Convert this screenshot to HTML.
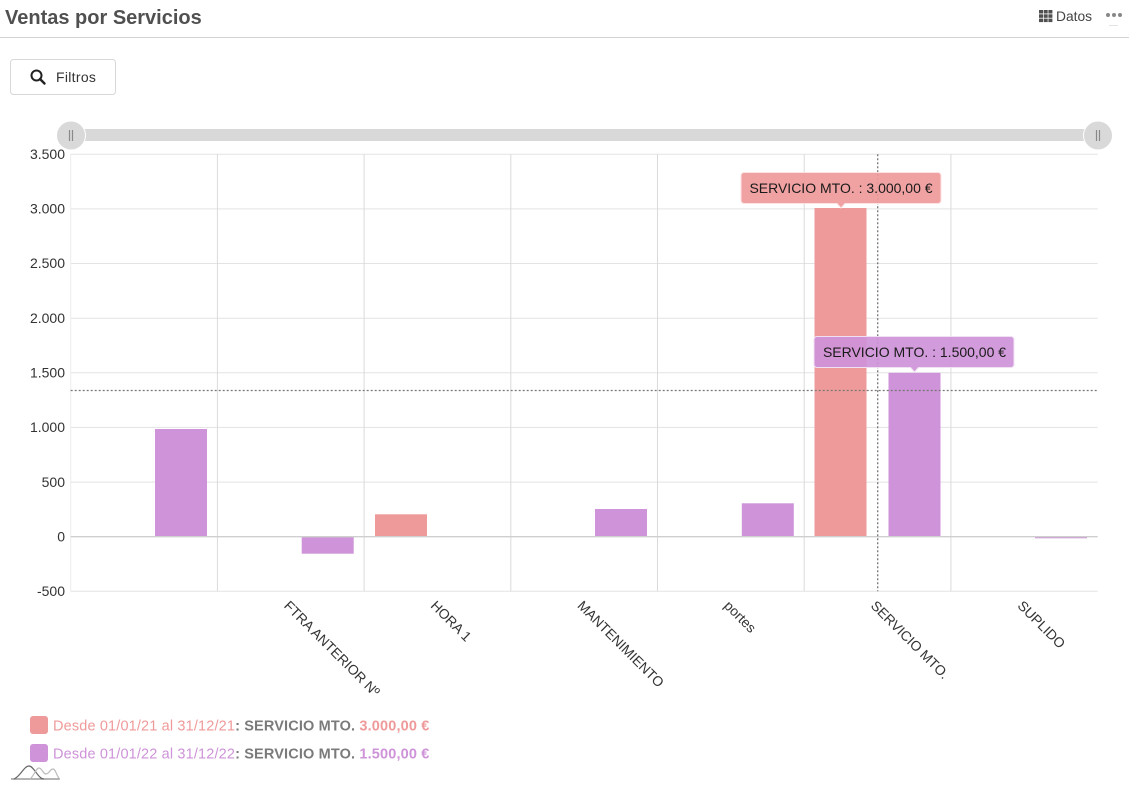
<!DOCTYPE html>
<html>
<head>
<meta charset="utf-8">
<style>
  html,body{margin:0;padding:0;background:#fff;}
  body{width:1129px;height:791px;overflow:hidden;position:relative;font-family:"Liberation Sans",sans-serif;}
  svg{position:absolute;left:0;top:0;}
</style>
</head>
<body>
<svg width="1129" height="791" viewBox="0 0 1129 791" xmlns="http://www.w3.org/2000/svg" font-family="Liberation Sans, sans-serif">
  <!-- Header -->
  <text x="5" y="24" font-size="20" font-weight="bold" fill="#505050">Ventas por Servicios</text>
  <line x1="0" y1="37.5" x2="1129" y2="37.5" stroke="#d4d4d4" stroke-width="1"/>
  <!-- Datos icon -->
  <g fill="#505050">
    <rect x="1039" y="10" width="4" height="3.5"/><rect x="1043.7" y="10" width="4" height="3.5"/><rect x="1048.4" y="10" width="4" height="3.5"/>
    <rect x="1039" y="14.3" width="4" height="3.5"/><rect x="1043.7" y="14.3" width="4" height="3.5"/><rect x="1048.4" y="14.3" width="4" height="3.5"/>
    <rect x="1039" y="18.6" width="4" height="3.5"/><rect x="1043.7" y="18.6" width="4" height="3.5"/><rect x="1048.4" y="18.6" width="4" height="3.5"/>
  </g>
  <text x="1056" y="21" font-size="13.8" fill="#444">Datos</text>
  <g fill="#888">
    <circle cx="1108" cy="15" r="2"/><circle cx="1114" cy="15" r="2"/><circle cx="1120" cy="15" r="2"/>
  </g>
  <line x1="1109" y1="25.5" x2="1118" y2="25.5" stroke="#e4e4e4" stroke-width="1"/>

  <!-- Filtros button -->
  <rect x="10.5" y="59.5" width="105" height="35" rx="3" ry="3" fill="#fff" stroke="#d8d8d8"/>
  <circle cx="36.5" cy="75.5" r="5" fill="none" stroke="#222" stroke-width="2"/>
  <line x1="40" y1="79" x2="44.5" y2="83.5" stroke="#222" stroke-width="2.4" stroke-linecap="round"/>
  <text x="56" y="82" font-size="14" fill="#333" letter-spacing="0.3">Filtros</text>

  <!-- Scrollbar -->
  <rect x="71" y="129" width="1027" height="12" fill="#d9d9d9"/>
  <circle cx="71" cy="135.5" r="14.5" fill="#d9d9d9" stroke="#fff" stroke-width="1"/>
  <line x1="69.5" y1="130" x2="69.5" y2="141" stroke="#8a8a8a" stroke-width="1.2"/>
  <line x1="72.5" y1="130" x2="72.5" y2="141" stroke="#8a8a8a" stroke-width="1.2"/>
  <circle cx="1098" cy="135.5" r="14.5" fill="#d9d9d9" stroke="#fff" stroke-width="1"/>
  <line x1="1096.5" y1="130" x2="1096.5" y2="141" stroke="#8a8a8a" stroke-width="1.2"/>
  <line x1="1099.5" y1="130" x2="1099.5" y2="141" stroke="#8a8a8a" stroke-width="1.2"/>

  <!-- Horizontal gridlines -->
  <g stroke="#e3e3e3" stroke-width="1">
    <line x1="70.7" y1="154.3" x2="1097.7" y2="154.3"/>
    <line x1="70.7" y1="208.9" x2="1097.7" y2="208.9"/>
    <line x1="70.7" y1="263.5" x2="1097.7" y2="263.5"/>
    <line x1="70.7" y1="318.2" x2="1097.7" y2="318.2"/>
    <line x1="70.7" y1="372.8" x2="1097.7" y2="372.8"/>
    <line x1="70.7" y1="427.4" x2="1097.7" y2="427.4"/>
    <line x1="70.7" y1="482.1" x2="1097.7" y2="482.1"/>
    <line x1="70.7" y1="591.3" x2="1097.7" y2="591.3"/>
  </g>
  <!-- Vertical gridlines -->
  <g stroke="#dadada" stroke-width="1">
    <line x1="70.7" y1="154.3" x2="70.7" y2="591.3" stroke="#ececec"/>
    <line x1="217.4" y1="154.3" x2="217.4" y2="591.3"/>
    <line x1="364.1" y1="154.3" x2="364.1" y2="591.3"/>
    <line x1="510.8" y1="154.3" x2="510.8" y2="591.3"/>
    <line x1="657.5" y1="154.3" x2="657.5" y2="591.3"/>
    <line x1="804.2" y1="154.3" x2="804.2" y2="591.3"/>
    <line x1="950.9" y1="154.3" x2="950.9" y2="591.3"/>
  </g>

  <!-- Y axis labels -->
  <g font-size="14" fill="#333" text-anchor="end">
    <text x="65" y="159">3.500</text>
    <text x="65" y="213.6">3.000</text>
    <text x="65" y="268.2">2.500</text>
    <text x="65" y="322.9">2.000</text>
    <text x="65" y="377.5">1.500</text>
    <text x="65" y="432.1">1.000</text>
    <text x="65" y="486.8">500</text>
    <text x="65" y="541.4">0</text>
    <text x="65" y="596">-500</text>
  </g>

  <!-- Bars -->
  <g>
    <rect x="155" y="429" width="52" height="107.7" fill="#ce93d8"/>
    <rect x="301.7" y="536.7" width="52" height="17" fill="#ce93d8"/>
    <rect x="375" y="514.3" width="52" height="22.4" fill="#ef9a9a"/>
    <rect x="595" y="509" width="52" height="27.7" fill="#ce93d8"/>
    <rect x="741.8" y="503.3" width="52" height="33.4" fill="#ce93d8"/>
    <rect x="814.5" y="208" width="52" height="328.7" fill="#ef9a9a"/>
    <rect x="888.5" y="372.8" width="52" height="163.9" fill="#ce93d8"/>
    <rect x="1035" y="536.7" width="52" height="1.6" fill="#ce93d8"/>
  </g>
  <!-- Zero line -->
  <line x1="70.7" y1="536.7" x2="1097.7" y2="536.7" stroke="#cfcfcf" stroke-width="1.3"/>

  <!-- Cursor -->
  <line x1="877.7" y1="154.3" x2="877.7" y2="591.3" stroke="#777" stroke-width="1.3" stroke-dasharray="2 2"/>
  <line x1="70.7" y1="390.5" x2="1097.7" y2="390.5" stroke="#777" stroke-width="1.3" stroke-dasharray="2 2"/>

  <!-- Tooltips -->
  <path d="M744,172.5 H938 a3,3 0 0 1 3,3 V200.5 a3,3 0 0 1 -3,3 H845 L841,208 L837,203.5 H744 a3,3 0 0 1 -3,-3 V175.5 a3,3 0 0 1 3,-3 Z" fill="#ef9a9a" fill-opacity="0.92" stroke="#fbe3e3" stroke-width="1"/>
  <text x="841" y="193" font-size="14" fill="#1a1a1a" text-anchor="middle">SERVICIO MTO. : 3.000,00 €</text>
  <path d="M817,336.5 H1011 a3,3 0 0 1 3,3 V364.5 a3,3 0 0 1 -3,3 H918.5 L914.5,372 L910.5,367.5 H817 a3,3 0 0 1 -3,-3 V339.5 a3,3 0 0 1 3,-3 Z" fill="#ce93d8" fill-opacity="0.92" stroke="#f1e0f4" stroke-width="1"/>
  <text x="914.5" y="357" font-size="14" fill="#1a1a1a" text-anchor="middle">SERVICIO MTO. : 1.500,00 €</text>

  <!-- Category labels -->
  <g font-size="13.8" fill="#333">
    <text x="283.2" y="606.5" transform="rotate(45 283.2 606.5)">FTRA ANTERIOR Nº</text>
    <text x="429.9" y="606.5" transform="rotate(45 429.9 606.5)">HORA 1</text>
    <text x="576.6" y="606.5" transform="rotate(45 576.6 606.5)">MANTENIMIENTO</text>
    <text x="723.3" y="606.5" transform="rotate(45 723.3 606.5)">portes</text>
    <text x="870" y="606.5" transform="rotate(45 870 606.5)">SERVICIO MTO.</text>
    <text x="1016.7" y="606.5" transform="rotate(45 1016.7 606.5)">SUPLIDO</text>
  </g>

  <!-- Legend -->
  <rect x="30" y="716" width="18" height="18" rx="3" fill="#ef9a9a"/>
  <text x="53" y="730.5" font-size="14.5" letter-spacing="0.15"><tspan fill="#ef9a9a">Desde 01/01/21 al 31/12/21</tspan><tspan fill="#7a7a7a" font-weight="bold">: SERVICIO MTO. </tspan><tspan fill="#ef9a9a" font-weight="bold">3.000,00 €</tspan></text>
  <rect x="30" y="744" width="18" height="18" rx="3" fill="#ce93d8"/>
  <text x="53" y="758.5" font-size="14.5" letter-spacing="0.15"><tspan fill="#ce93d8">Desde 01/01/22 al 31/12/22</tspan><tspan fill="#7a7a7a" font-weight="bold">: SERVICIO MTO. </tspan><tspan fill="#ce93d8" font-weight="bold">1.500,00 €</tspan></text>

  <!-- logo -->
  <g fill="none" stroke-width="1.2">
    <path d="M11,779 H60" stroke="#888"/>
    <path d="M14,779 C20,777 24,766 29,766 C34,766 38,779 44,779" stroke="#666"/>
    <path d="M30,779 C34,776 36,768 39,768 C42,768 43,774 46,774 C49,774 50,769 53,769 C56,769 57,778 60,779" stroke="#bbb"/>
  </g>
</svg>
</body>
</html>
